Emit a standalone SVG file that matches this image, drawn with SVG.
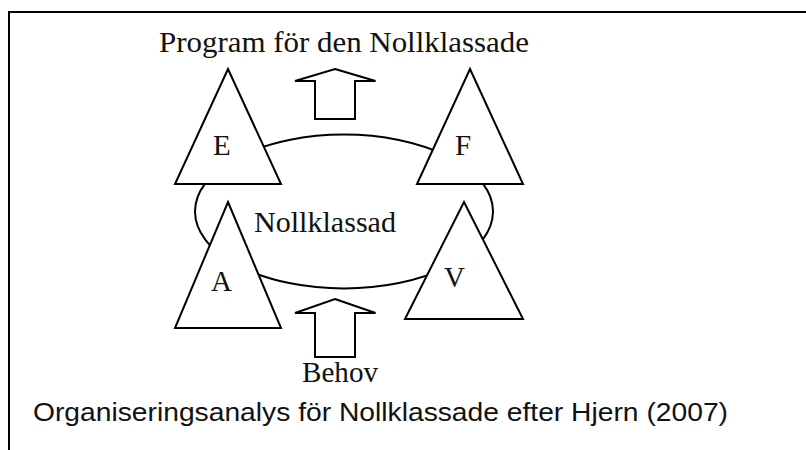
<svg xmlns="http://www.w3.org/2000/svg" width="806" height="450" viewBox="0 0 806 450">
<style>
.ln{fill:none;stroke:#000;stroke-width:2}
.sh{fill:#fff;stroke:#000;stroke-width:2;stroke-linejoin:miter}
.ser{font-family:"Liberation Serif","DejaVu Serif",serif;font-size:29px;fill:#111}
.san{font-family:"Liberation Sans","DejaVu Sans",sans-serif;font-size:26px;fill:#111}
</style>
<rect width="806" height="450" fill="#fff"/>
<g id="frame">
<path class="ln" d="M9,450 V12 H806"/>
</g>
<g id="connectors">
<ellipse class="ln" cx="344" cy="211.5" rx="149" ry="77"/>
<path id="arrow-out" class="sh" d="M335,69 L375.5,81 H355 V119 H315 V81 H295 Z"/>
<path id="arrow-in" class="sh" d="M335,299 L375.5,313 H355 V357 H315 V313 H295 Z"/>
</g>
<g id="node-E">
<polygon class="sh" points="228,69 281,184 175,184"/>
<text class="ser" x="213" y="155">E</text>
</g>
<g id="node-F">
<polygon class="sh" points="470,69 523,184 417,184"/>
<text class="ser" x="455" y="155">F</text>
</g>
<g id="node-A">
<polygon class="sh" points="228,202 281,328 175,328"/>
<text class="ser" x="211" y="291">A</text>
</g>
<g id="node-V">
<polygon class="sh" points="464,202 523,319 405,319"/>
<text class="ser" x="444" y="287">V</text>
</g>
<g id="labels">
<text class="ser" x="159" y="52" textLength="370" lengthAdjust="spacingAndGlyphs">Program för den Nollklassade</text>
<text class="ser" x="254" y="231.5" textLength="142" lengthAdjust="spacingAndGlyphs">Nollklassad</text>
<text class="ser" x="302" y="381.5" textLength="76" lengthAdjust="spacingAndGlyphs">Behov</text>
<text class="san" x="33" y="421" textLength="695" lengthAdjust="spacingAndGlyphs">Organiseringsanalys för Nollklassade efter Hjern (2007)</text>
</g>
</svg>
